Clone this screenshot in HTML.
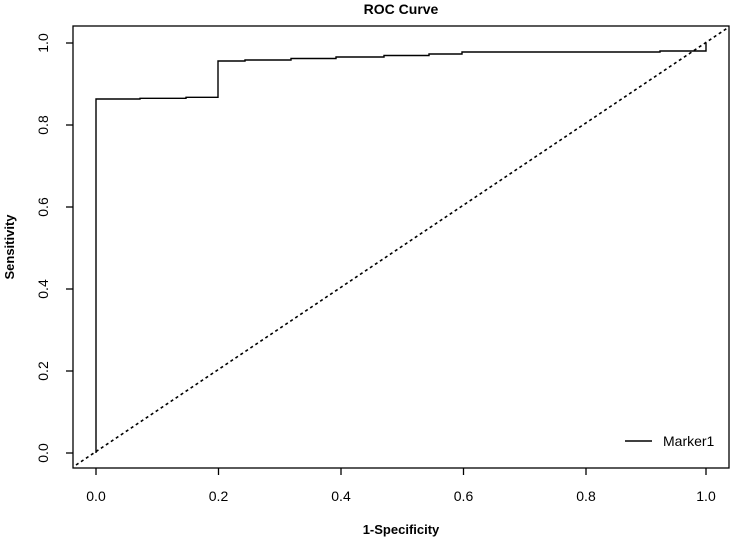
<!DOCTYPE html>
<html><head><style>
html,body{margin:0;padding:0;background:#fff;}
svg{display:block;}
text{font-family:"Liberation Sans",Arial,sans-serif;fill:#000;}
</style></head><body>
<svg width="731" height="542" viewBox="0 0 731 542" xmlns="http://www.w3.org/2000/svg">
<rect x="73" y="26" width="656" height="442" fill="none" stroke="#000" stroke-width="1.3"/>
<text x="401" y="14" font-size="14" font-weight="bold" text-anchor="middle">ROC Curve</text>
<g stroke="#000" stroke-width="1.3">
<line x1="96" y1="468" x2="96" y2="475"/>
<line x1="218.5" y1="468" x2="218.5" y2="475"/>
<line x1="341" y1="468" x2="341" y2="475"/>
<line x1="463.5" y1="468" x2="463.5" y2="475"/>
<line x1="586" y1="468" x2="586" y2="475"/>
<line x1="706" y1="468" x2="706" y2="475"/>
<line x1="66" y1="453" x2="73" y2="453"/>
<line x1="66" y1="371" x2="73" y2="371"/>
<line x1="66" y1="289" x2="73" y2="289"/>
<line x1="66" y1="207" x2="73" y2="207"/>
<line x1="66" y1="125" x2="73" y2="125"/>
<line x1="66" y1="43" x2="73" y2="43"/>
</g>
<g font-size="14" text-anchor="middle">
<text x="96" y="501">0.0</text>
<text x="218.5" y="501">0.2</text>
<text x="341" y="501">0.4</text>
<text x="463.5" y="501">0.6</text>
<text x="586" y="501">0.8</text>
<text x="706" y="501">1.0</text>
<text transform="translate(48,453) rotate(-90)">0.0</text>
<text transform="translate(48,371) rotate(-90)">0.2</text>
<text transform="translate(48,289) rotate(-90)">0.4</text>
<text transform="translate(48,207) rotate(-90)">0.6</text>
<text transform="translate(48,125) rotate(-90)">0.8</text>
<text transform="translate(48,43) rotate(-90)">1.0</text>
</g>
<text x="401" y="534" font-size="13" font-weight="bold" text-anchor="middle">1-Specificity</text>
<text transform="translate(14,247) rotate(-90)" font-size="13" font-weight="bold" text-anchor="middle">Sensitivity</text>
<line x1="76" y1="465" x2="729" y2="27" stroke="#000" stroke-width="1.6" stroke-dasharray="3,3"/>
<polyline fill="none" stroke="#000" stroke-width="1.4" points="96,453 96,99 140,99 140,98.3 186,98.3 186,97.3 218,97.3 218,61 245,61 245,60 291,60 291,58.5 336,58.5 336,57 384,57 384,55.5 429,55.5 429,54 462,54 462,52 660,52 660,51 706,51 706,43"/>
<line x1="625" y1="441" x2="652" y2="441" stroke="#000" stroke-width="1.4"/>
<text x="663" y="446" font-size="14">Marker1</text>
</svg>
</body></html>
